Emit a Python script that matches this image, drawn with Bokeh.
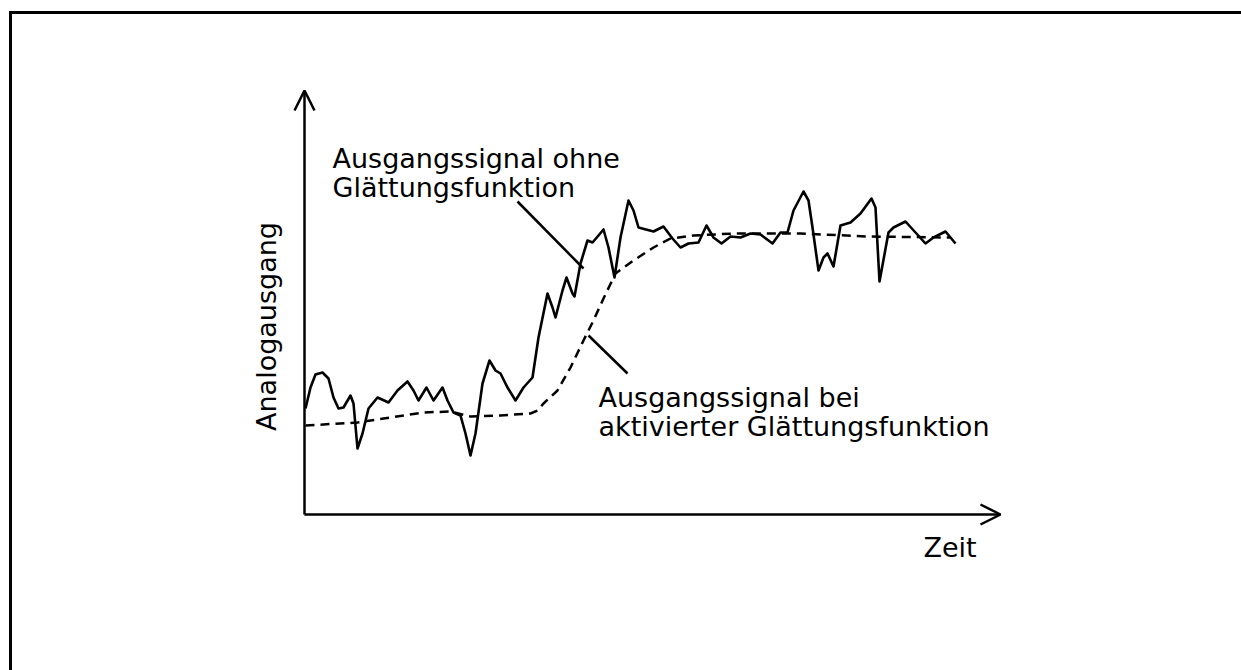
from bokeh.plotting import figure
from bokeh.models import Range1d, Label, Arrow, OpenHead
from bokeh.embed import file_html
from bokeh.resources import INLINE

# Signal data (Zeit, Analogausgang)
zeit_roh = [1, 6, 11, 18, 24, 29, 34, 39, 46, 49,
            53, 58, 64, 73, 84, 93, 103, 109, 114, 122,
            129, 138, 143, 149, 156, 161, 166, 171, 178, 185,
            191, 196, 203, 211, 219, 228, 234, 243, 248, 251,
            258, 262, 268, 270, 276, 283, 288, 294, 299, 304,
            310, 316, 324, 329, 334, 349, 359, 368, 376, 384,
            394, 402, 409, 417, 426, 436, 446, 456, 468, 476,
            483, 489, 499, 504, 508, 514, 519, 523, 529, 536,
            546, 556, 567, 571, 575, 584, 589, 601, 611, 621,
            629, 641, 651]
wert_roh = [106, 127, 140, 142, 136, 117, 106, 107, 119, 111,
            66, 81, 106, 117, 112, 124, 133, 124, 114, 127,
            114, 127, 114, 102, 99, 81, 59, 81, 131, 154,
            144, 141, 127, 114, 127, 137, 177, 221, 207, 197,
            224, 237, 221, 218, 251, 274, 272, 279, 285, 267,
            237, 277, 314, 304, 287, 283, 288, 276, 267, 271,
            272, 289, 277, 271, 278, 277, 281, 280, 271, 282,
            282, 304, 323, 314, 287, 244, 257, 261, 248, 289,
            292, 301, 316, 307, 233, 282, 287, 293, 282, 271,
            277, 283, 271]

zeit_glatt = [1, 53, 86, 119, 146, 166, 196, 226, 233, 239, 253, 266, 279, 289, 299, 311, 329, 349,
              366, 389, 429, 496, 563, 646]
wert_glatt = [89, 92, 97, 102, 103, 98, 99, 101, 104, 111, 124, 147, 174, 194, 216, 241, 254, 267,
              276, 279, 281, 281, 278, 277]

W, H = 1241, 670
x0, y1 = -304, 514

p = figure(width=W, height=H, output_backend="svg", toolbar_location=None,
           x_range=Range1d(x0, x0 + W), y_range=Range1d(y1 - H, y1),
           min_border=0, outline_line_color=None)
p.axis.visible = False
p.grid.visible = False
p.background_fill_color = "white"
p.border_fill_color = "white"

FONT = "DejaVu Sans"
FS = "27px"

# drawing frame
p.line([-294, -294, x0 + W + 10], [y1 - H - 10, 502, 502], line_width=3, color="black",
       line_join="miter")

# axes with open arrow heads
p.add_layout(Arrow(end=OpenHead(size=20, line_width=2.5, line_color="black"),
                   x_start=0, y_start=0, x_end=0, y_end=424, line_width=2.5, line_color="black"))
p.add_layout(Arrow(end=OpenHead(size=20, line_width=2.5, line_color="black"),
                   x_start=0, y_start=0, x_end=696, y_end=0, line_width=2.5, line_color="black"))

# signals
p.line(zeit_roh, wert_roh, line_width=2.6, color="black", line_join="round")
p.line(zeit_glatt, wert_glatt, line_width=2.5, color="black", line_dash="9 6")

# leader lines
p.add_layout(Arrow(end=None, x_start=213, y_start=313, x_end=279, y_end=246,
                   line_width=2.5, line_color="black"))
p.add_layout(Arrow(end=None, x_start=284, y_start=179, x_end=323, y_end=141,
                   line_width=2.5, line_color="black"))

def lab(x, y, text, **kw):
    p.add_layout(Label(x=x, y=y, text=text, text_font=FONT, text_font_size=FS,
                       text_color="black", **kw))

lab(28, 514 - 158, "Ausgangssignal ohne", text_baseline="alphabetic")
lab(28, 514 - 187, "Glättungsfunktion", text_baseline="alphabetic")
lab(294, 514 - 397, "Ausgangssignal bei", text_baseline="alphabetic")
lab(294, 514 - 426, "aktivierter Glättungsfunktion", text_baseline="alphabetic")
lab(619, 514 - 547, "Zeit", text_baseline="alphabetic")
lab(-38, 514 - 326, "Analogausgang", angle=1.5708, text_align="center",
    text_baseline="middle")

open("out.html", "w").write(file_html(p, INLINE))
